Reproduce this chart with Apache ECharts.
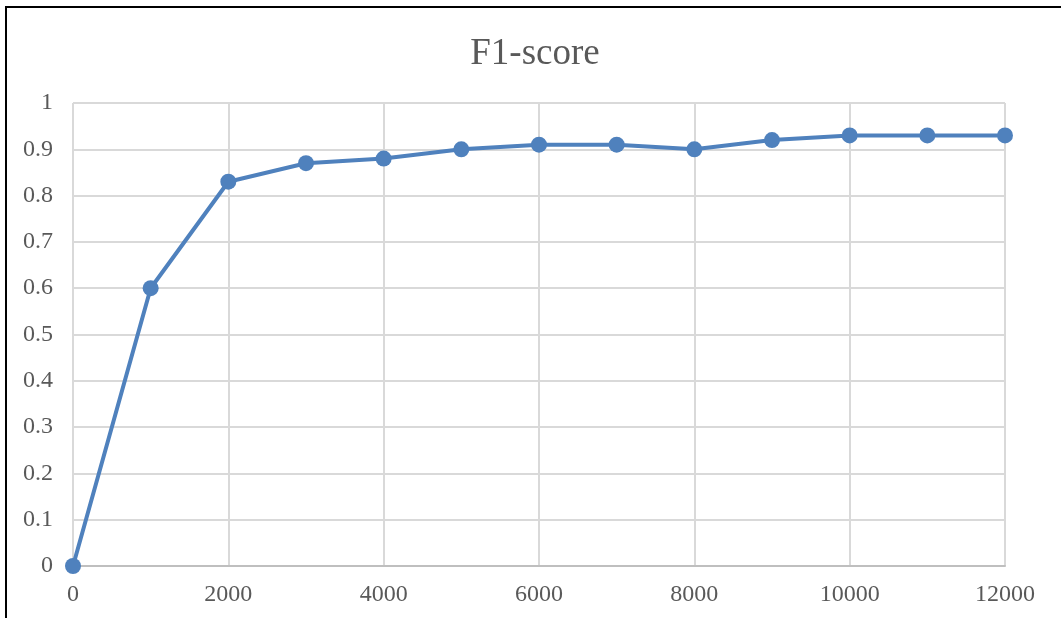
<!DOCTYPE html>
<html>
<head>
<meta charset="utf-8">
<script src="https://cdn.jsdelivr.net/npm/echarts@6/dist/echarts.min.js"></script>
<style>
html,body{margin:0;padding:0;background:#fff;}
#chart{width:1061px;height:618px;}
</style>
</head>
<body>
<div id="chart"></div>
<script>
const titleText = "F1-score";
const xValues = [0, 1000, 2000, 3000, 4000, 5000, 6000, 7000, 8000, 9000, 10000, 11000, 12000];
const f1Values = [0, 0.6, 0.83, 0.87, 0.88, 0.90, 0.91, 0.91, 0.90, 0.92, 0.93, 0.93, 0.93];

const chart = echarts.init(document.getElementById('chart'));
const font = '"Liberation Serif", "Times New Roman", serif';
chart.setOption({
  animation: false,
  backgroundColor: '#fff',
  title: {
    text: titleText,
    left: 530,
    textAlign: 'center',
    top: 31,
    textStyle: {fontFamily: font, fontSize: 37, fontWeight: 'normal', color: '#595959'}
  },
  grid: {left: 73, right: 56, top: 103, bottom: 52, containLabel: false},
  xAxis: {
    type: 'value',
    min: 0, max: 12000, interval: 2000,
    axisLine: {show: true, lineStyle: {color: '#bfbfbf', width: 2}},
    axisTick: {show: false},
    splitLine: {show: true, lineStyle: {color: '#d9d9d9', width: 2}},
    axisLabel: {fontFamily: font, fontSize: 24, color: '#595959', margin: 17,
      formatter: v => String(v)}
  },
  yAxis: {
    type: 'value',
    min: 0, max: 1, interval: 0.1,
    axisLine: {show: false},
    axisTick: {show: false},
    splitLine: {show: true, lineStyle: {color: '#d9d9d9', width: 2}},
    axisLabel: {fontFamily: font, fontSize: 24, color: '#595959', margin: 20,
      formatter: v => String(Math.round(v * 10) / 10)}
  },
  series: [{
    type: 'line',
    data: xValues.map((x, i) => [x, f1Values[i]]),
    symbol: 'circle',
    symbolSize: 16,
    lineStyle: {color: '#4f81bd', width: 4},
    itemStyle: {color: '#4f81bd'},
    z: 5
  }],
  graphic: [
    {type: 'line', shape: {x1: 6, y1: 7, x2: 1061, y2: 7}, style: {stroke: '#000', lineWidth: 2}},
    {type: 'line', shape: {x1: 6, y1: 6, x2: 6, y2: 618}, style: {stroke: '#000', lineWidth: 2}}
  ]
});
</script>
</body>
</html>
